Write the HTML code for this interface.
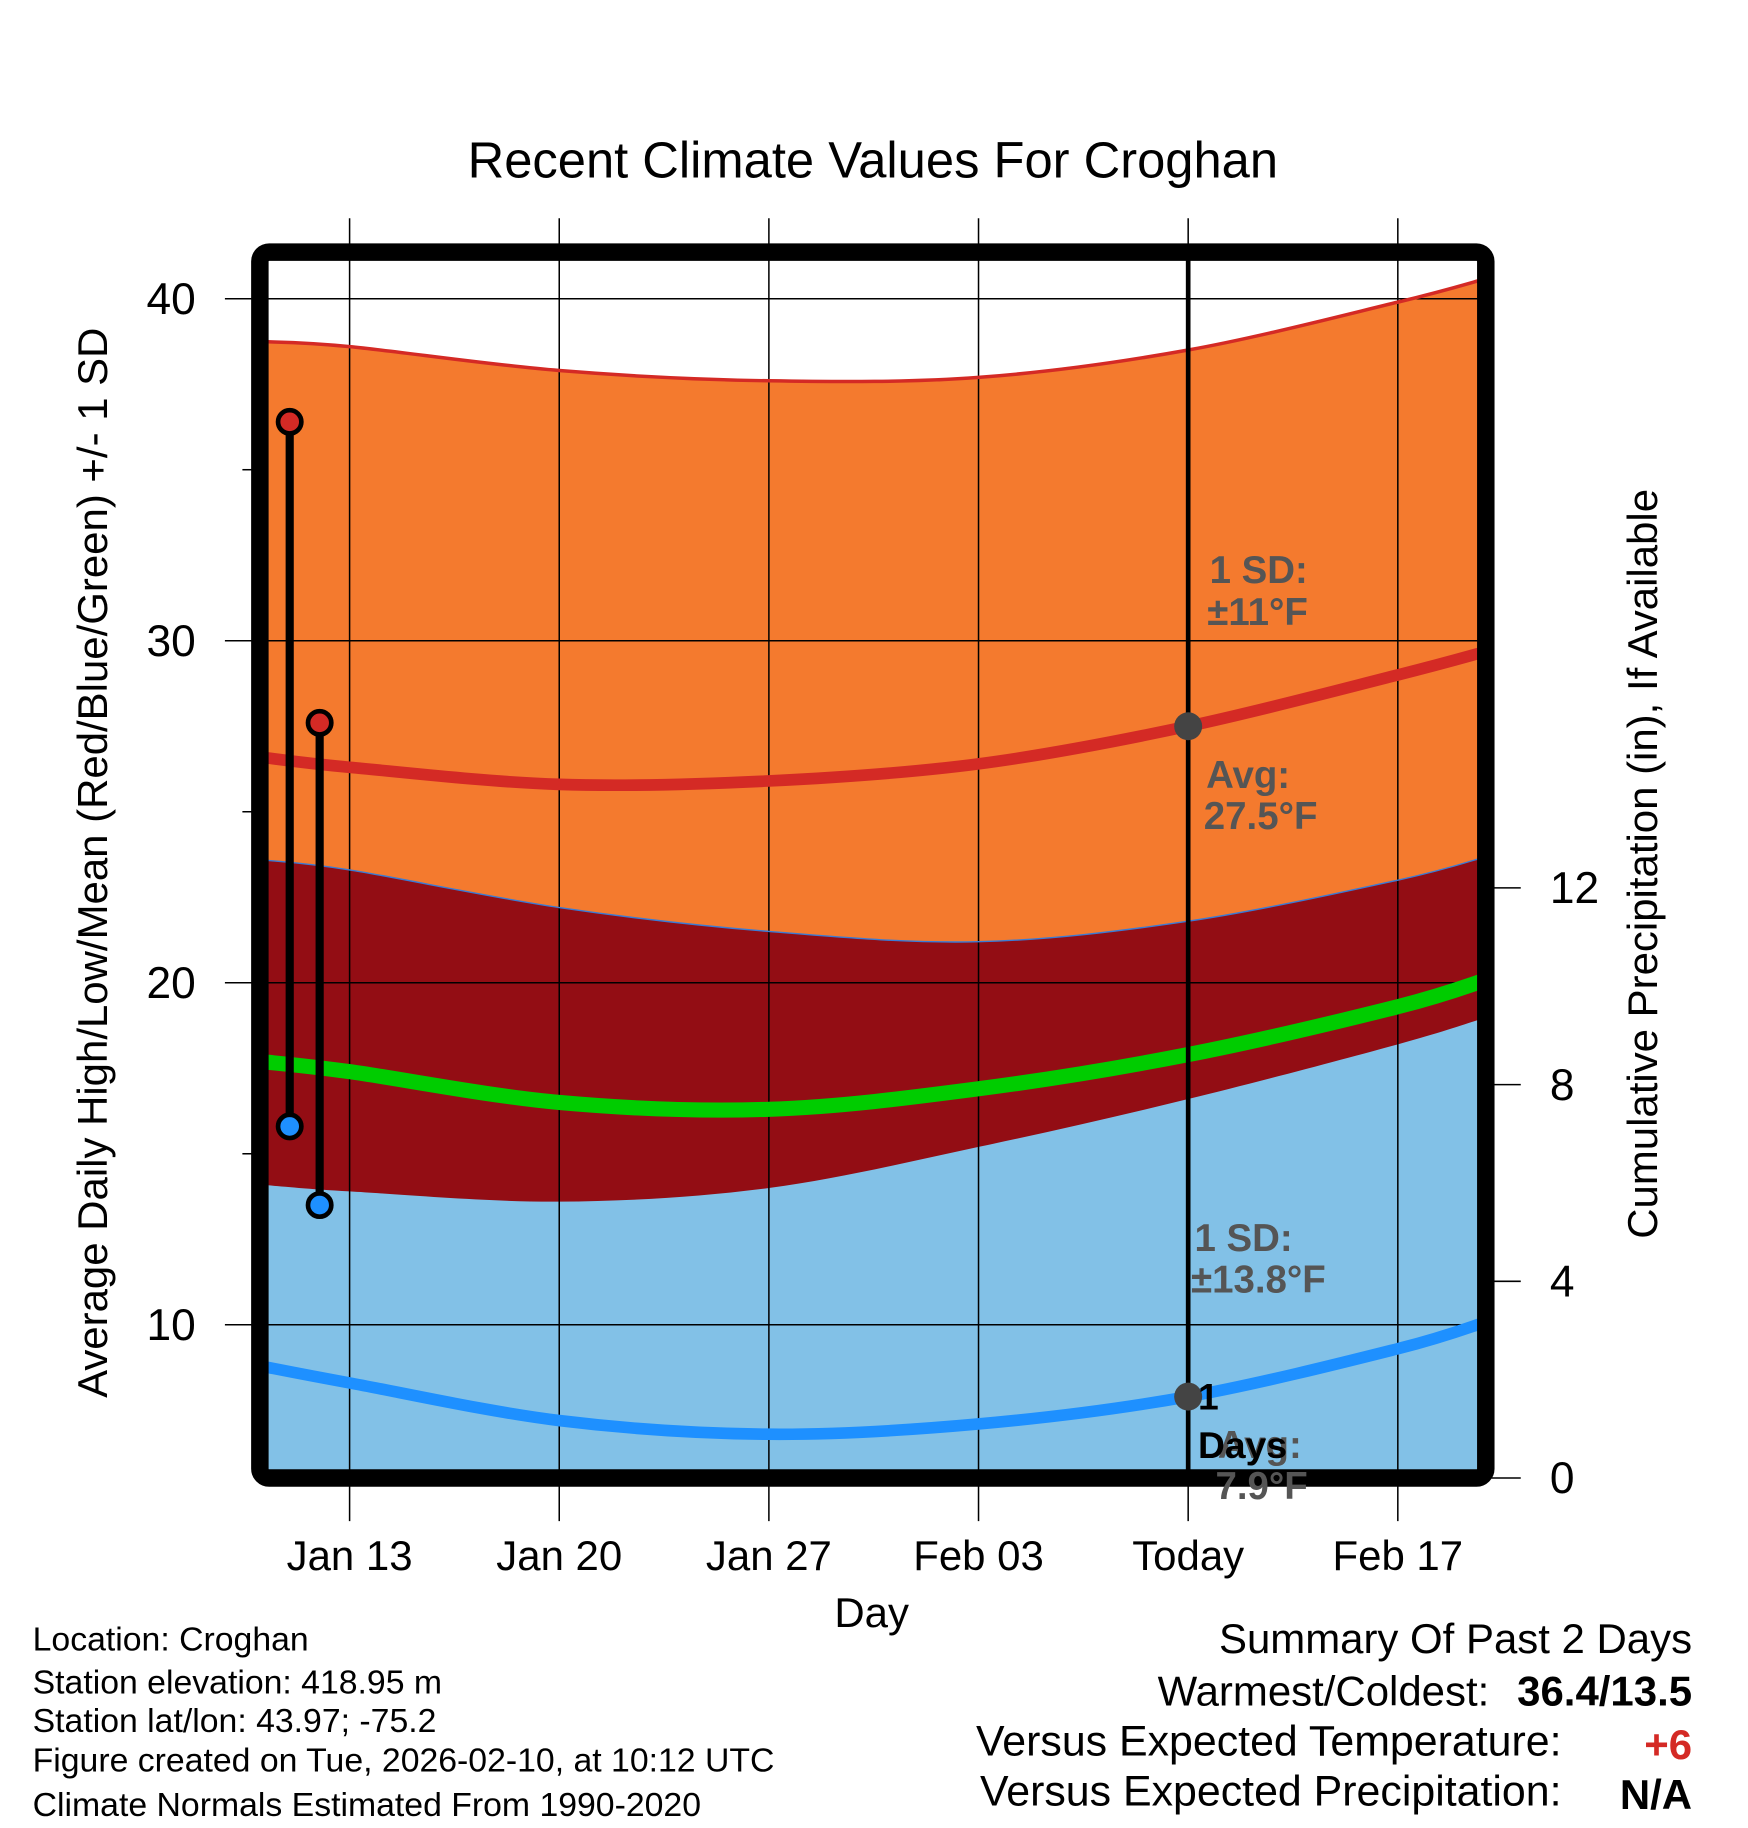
<!DOCTYPE html>
<html><head><meta charset="utf-8"><style>
html,body{margin:0;padding:0;background:#fff;}
svg{display:block;font-family:"Liberation Sans",Arial,sans-serif;}
</style></head><body>
<svg id="chart" width="1748" height="1828" viewBox="0 0 1500 1568" xmlns="http://www.w3.org/2000/svg">
<defs><clipPath id="plotclip"><rect x="230" y="223" width="1038" height="1038"/></clipPath></defs>
<text x="749" y="152" font-size="43.5" text-anchor="middle">Recent Climate Values For Croghan</text>
<g id="bands" clip-path="url(#plotclip)"></g>
<g id="grid"></g>
<g id="series" clip-path="url(#plotclip)"></g>
<rect x="223" y="216" width="1052" height="1052" rx="8" fill="none" stroke="#000" stroke-width="15"/>
<g id="axes"></g>
<g id="obs"></g>
<g font-weight="bold" fill="#555" font-size="33">
<text x="1038" y="500">1 SD:</text>
<text x="1036" y="536">±11°F</text>
<text x="1035" y="676">Avg:</text>
<text x="1033" y="711">27.5°F</text>
<text x="1025" y="1073">1 SD:</text>
<text x="1022" y="1109">±13.8°F</text>
<text x="1045" y="1251">Avg:</text>
<text x="1043" y="1286">7.9°F</text>
</g>
<g font-weight="bold" fill="#000" font-size="32">
<text x="1028" y="1209">1</text>
<text x="1028" y="1251">Days</text>
</g>
<text x="748" y="1396" font-size="36" text-anchor="middle">Day</text>
<text transform="translate(92,740) rotate(-90)" font-size="36" text-anchor="middle">Average Daily High/Low/Mean (Red/Blue/Green) +/- 1 SD</text>
<text transform="translate(1422,741) rotate(-90)" font-size="36" text-anchor="middle">Cumulative Precipitation (in), If Available</text>
<g font-size="29">
<text x="28" y="1416">Location: Croghan</text>
<text x="28" y="1453">Station elevation: 418.95 m</text>
<text x="28" y="1486">Station lat/lon: 43.97; -75.2</text>
<text x="28" y="1520">Figure created on Tue, 2026-02-10, at 10:12 UTC</text>
<text x="28" y="1558">Climate Normals Estimated From 1990-2020</text>
</g>
<g font-size="36" text-anchor="end">
<text x="1452" y="1418">Summary Of Past 2 Days</text>
<text x="1278" y="1463">Warmest/Coldest:</text>
<text x="1452" y="1463" font-weight="bold">36.4/13.5</text>
<text x="1340" y="1506" font-size="36.8">Versus Expected Temperature:</text>
<text x="1452" y="1509" font-weight="bold" fill="#d42a25">+6</text>
<text x="1340" y="1549" font-size="36.8">Versus Expected Precipitation:</text>
<text x="1452" y="1552" font-weight="bold">N/A</text>
</g>
</svg>
<script>
// data (days relative to Jan 13)
const days = [-3, 0, 7, 14, 21, 28, 35, 38];
const highPlusSD = [38.75, 38.6, 37.9, 37.6, 37.7, 38.5, 39.9, 40.6];
const highMean = [26.6, 26.3, 25.8, 25.9, 26.4, 27.5, 29.0, 29.7];
const highMinusSD = [23.6, 23.3, 22.2, 21.5, 21.2, 21.8, 23.0, 23.7];
const meanTemp = [17.7, 17.4, 16.5, 16.3, 16.9, 17.9, 19.3, 20.1];
const lowPlusSD = [14.1, 13.9, 13.6, 14.0, 15.2, 16.6, 18.2, 19.0];
const lowMean = [8.8, 8.3, 7.2, 6.8, 7.1, 7.9, 9.3, 10.1];
const obsDays = [-2, -1];
const obsHigh = [36.4, 27.6];
const obsLow = [15.8, 13.5];
const xTickDays = [0, 7, 14, 21, 28, 35];
const xTickLabels = ["Jan 13", "Jan 20", "Jan 27", "Feb 03", "Today", "Feb 17"];
const yTicks = [10, 20, 30, 40];
const yMinor = [15, 25, 35];
const y2Ticks = [0, 4, 8, 12];
const todayDay = 28;

const NS = "http://www.w3.org/2000/svg";
const xS = d => 300 + d * 25.7;
const yS = v => 256 + (40 - v) * 29.35;
const y2S = p => 1268 - p * 42.2;
function mk(parent, tag, attrs, text) {
  const e = document.createElementNS(NS, tag);
  for (const k in attrs) e.setAttribute(k, attrs[k]);
  if (text !== undefined) e.textContent = text;
  parent.appendChild(e); return e;
}
function curve(vals) {
  const p = days.map((d, i) => [xS(d), yS(vals[i])]);
  let s = "M" + p[0][0] + "," + p[0][1];
  for (let i = 0; i < p.length - 1; i++) {
    const p0 = p[Math.max(0, i - 1)], p1 = p[i], p2 = p[i + 1], p3 = p[Math.min(p.length - 1, i + 2)];
    const c1 = [p1[0] + (p2[0] - p0[0]) / 6, p1[1] + (p2[1] - p0[1]) / 6];
    const c2 = [p2[0] - (p3[0] - p1[0]) / 6, p2[1] - (p3[1] - p1[1]) / 6];
    s += " C" + c1 + " " + c2 + " " + p2;
  }
  return s;
}
const bands = document.getElementById("bands");
const x0 = xS(days[0]), x1 = xS(days[days.length - 1]);
const bot = 1300;
let e;
e = mk(bands, "path", {d: curve(highPlusSD) + " L" + x1 + "," + bot + " L" + x0 + "," + bot + "Z", fill: "#f47a2e"});


e = mk(bands, "path", {d: curve(highMinusSD) + " L" + x1 + "," + bot + " L" + x0 + "," + bot + "Z", fill: "#930d14"});


e = mk(bands, "path", {d: curve(lowPlusSD) + " L" + x1 + "," + bot + " L" + x0 + "," + bot + "Z", fill: "#82c1e7"});



const grid = document.getElementById("grid");
xTickDays.forEach(d => {
  e = mk(grid, "line", {x1: xS(d), x2: xS(d), y1: 187, y2: 1305, stroke: "#000", "stroke-width": 1.3});
  
  
});
yTicks.forEach(v => {
  e = mk(grid, "line", {x1: 193, x2: 1268, y1: yS(v), y2: yS(v), stroke: "#000", "stroke-width": 1.3});
  
  
});

const series = document.getElementById("series");
[[highPlusSD, "#d42a25", 3, "high-plus-sd-line"], [highMinusSD, "#3a7bd5", 1.2, "high-minus-sd-line"],
 [highMean, "#d42a25", 10, "high-mean-line"], [meanTemp, "#00cc00", 13, "mean-line"], [lowMean, "#1e90ff", 10, "low-mean-line"]]
.forEach(s => {
  e = mk(series, "path", {d: curve(s[0]), fill: "none", stroke: s[1], "stroke-width": s[2]});
  
  
});
e = mk(series, "line", {x1: xS(todayDay), x2: xS(todayDay), y1: 216, y2: 1268, stroke: "#000", "stroke-width": 4});


const ti = days.indexOf(todayDay);
e = mk(series, "circle", {cx: xS(todayDay), cy: yS(highMean[ti]), r: 12, fill: "#444"});


e = mk(series, "circle", {cx: xS(todayDay), cy: yS(lowMean[ti]), r: 12, fill: "#444"});



const axes = document.getElementById("axes");
xTickDays.forEach((d, i) => {
  e = mk(axes, "text", {x: xS(d), y: 1347, "font-size": 36, "text-anchor": "middle"}, xTickLabels[i]);
  
  
});
yTicks.forEach(v => {
  e = mk(axes, "text", {x: 168, y: yS(v) + 13, "font-size": 38, "text-anchor": "end"}, String(v));
  
  
});
yMinor.forEach(v => {
  e = mk(axes, "line", {x1: 208, x2: 218, y1: yS(v), y2: yS(v), stroke: "#000", "stroke-width": 1.3});
  
  
});
y2Ticks.forEach(p => {
  e = mk(axes, "line", {x1: 1280, x2: 1305, y1: y2S(p), y2: y2S(p), stroke: "#000", "stroke-width": 1.3});
  
  
  e = mk(axes, "text", {x: 1330, y: y2S(p) + 13, "font-size": 38}, String(p));
  
  
});

const obs = document.getElementById("obs");
obsDays.forEach((d, i) => {
  e = mk(obs, "line", {x1: xS(d), x2: xS(d), y1: yS(obsHigh[i]), y2: yS(obsLow[i]), stroke: "#000", "stroke-width": 7});
  
  
  e = mk(obs, "circle", {cx: xS(d), cy: yS(obsHigh[i]), r: 10, fill: "#d42a25", stroke: "#000", "stroke-width": 4});
  
  
  e = mk(obs, "circle", {cx: xS(d), cy: yS(obsLow[i]), r: 10, fill: "#1e90ff", stroke: "#000", "stroke-width": 4});
  
  
});
</script>
</body></html>
